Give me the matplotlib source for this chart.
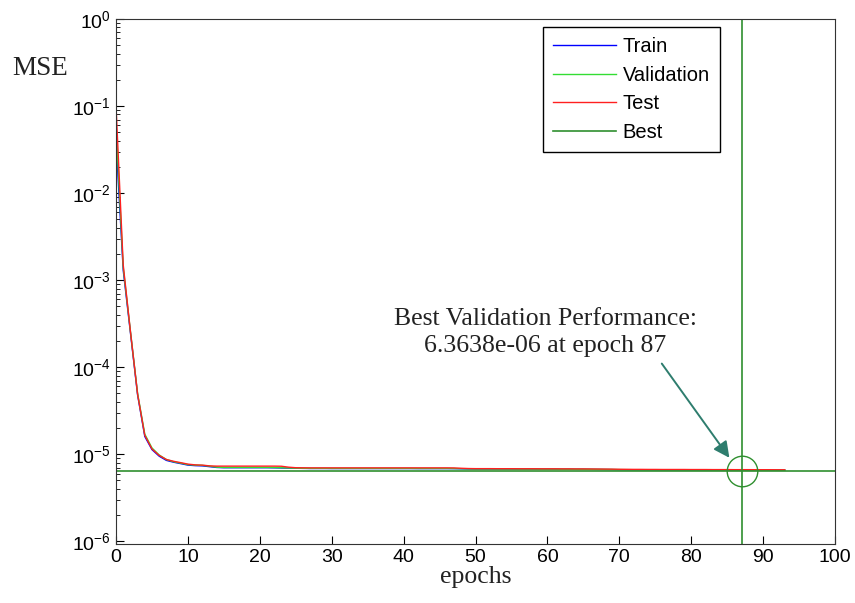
import numpy as np
import matplotlib
matplotlib.use("Agg")
import matplotlib.pyplot as plt
from matplotlib.ticker import NullFormatter

# performance values (MSE per epoch, 0..93)
train_mse = [
    4.0e-2, 1.3e-3, 2.5e-4, 4.8e-5, 1.6e-5, 1.13e-5, 9.5e-6, 8.5e-6, 8.1e-6, 7.8e-6,
    7.5e-6, 7.4e-6, 7.35e-6, 7.2e-6, 7.05e-6, 7.0e-6, 7.0e-6, 7.0e-6, 7.0e-6, 7.0e-6,
    7.0e-6, 7.0e-6, 6.98e-6, 6.95e-6, 6.92e-6, 6.9e-6, 6.88e-6, 6.86e-6, 6.86e-6, 6.86e-6,
    6.85e-6, 6.85e-6, 6.85e-6, 6.85e-6, 6.85e-6, 6.85e-6, 6.85e-6, 6.85e-6, 6.85e-6, 6.85e-6,
    6.85e-6, 6.85e-6, 6.84e-6, 6.84e-6, 6.84e-6, 6.84e-6, 6.84e-6, 6.83e-6, 6.8e-6, 6.77e-6,
    6.75e-6, 6.75e-6, 6.75e-6, 6.74e-6, 6.74e-6, 6.74e-6, 6.73e-6, 6.73e-6, 6.73e-6, 6.72e-6,
    6.72e-6, 6.72e-6, 6.71e-6, 6.71e-6, 6.7e-6, 6.7e-6, 6.69e-6, 6.68e-6, 6.67e-6, 6.66e-6,
    6.64e-6, 6.63e-6, 6.62e-6, 6.62e-6, 6.61e-6, 6.61e-6, 6.6e-6, 6.6e-6, 6.6e-6, 6.6e-6,
    6.59e-6, 6.59e-6, 6.59e-6, 6.58e-6, 6.58e-6, 6.58e-6, 6.57e-6, 6.57e-6, 6.57e-6, 6.56e-6,
    6.56e-6, 6.56e-6, 6.55e-6, 6.55e-6,
]
val_mse = [
    6.0e-2, 1.4e-3, 2.6e-4, 5.0e-5, 1.7e-5, 1.18e-5, 9.8e-6, 8.7e-6, 8.2e-6, 7.9e-6,
    7.6e-6, 7.5e-6, 7.45e-6, 7.3e-6, 7.1e-6, 7.05e-6, 7.05e-6, 7.05e-6, 7.05e-6, 7.05e-6,
    7.05e-6, 7.05e-6, 7.03e-6, 7.0e-6, 6.95e-6, 6.92e-6, 6.9e-6, 6.88e-6, 6.88e-6, 6.88e-6,
    6.87e-6, 6.87e-6, 6.87e-6, 6.87e-6, 6.87e-6, 6.87e-6, 6.87e-6, 6.87e-6, 6.87e-6, 6.87e-6,
    6.87e-6, 6.87e-6, 6.86e-6, 6.86e-6, 6.86e-6, 6.86e-6, 6.86e-6, 6.85e-6, 6.82e-6, 6.79e-6,
    6.77e-6, 6.77e-6, 6.77e-6, 6.76e-6, 6.76e-6, 6.76e-6, 6.75e-6, 6.75e-6, 6.75e-6, 6.74e-6,
    6.74e-6, 6.74e-6, 6.73e-6, 6.73e-6, 6.72e-6, 6.72e-6, 6.71e-6, 6.7e-6, 6.69e-6, 6.68e-6,
    6.66e-6, 6.65e-6, 6.64e-6, 6.64e-6, 6.63e-6, 6.63e-6, 6.62e-6, 6.62e-6, 6.62e-6, 6.62e-6,
    6.61e-6, 6.61e-6, 6.61e-6, 6.6e-6, 6.6e-6, 6.6e-6, 6.59e-6, 6.59e-6, 6.59e-6, 6.58e-6,
    6.58e-6, 6.58e-6, 6.57e-6, 6.57e-6,
]
test_mse = [
    1.0e-1, 1.5e-3, 2.6e-4, 4.9e-5, 1.65e-5, 1.15e-5, 9.7e-6, 8.7e-6, 8.3e-6, 8.0e-6,
    7.7e-6, 7.55e-6, 7.5e-6, 7.35e-6, 7.3e-6, 7.3e-6, 7.3e-6, 7.3e-6, 7.3e-6, 7.3e-6,
    7.3e-6, 7.3e-6, 7.3e-6, 7.28e-6, 7.1e-6, 7.0e-6, 6.98e-6, 6.97e-6, 6.97e-6, 6.97e-6,
    6.97e-6, 6.97e-6, 6.97e-6, 6.97e-6, 6.97e-6, 6.97e-6, 6.97e-6, 6.97e-6, 6.97e-6, 6.97e-6,
    6.97e-6, 6.97e-6, 6.97e-6, 6.97e-6, 6.97e-6, 6.97e-6, 6.97e-6, 6.96e-6, 6.9e-6, 6.85e-6,
    6.83e-6, 6.83e-6, 6.83e-6, 6.82e-6, 6.82e-6, 6.82e-6, 6.81e-6, 6.81e-6, 6.81e-6, 6.8e-6,
    6.8e-6, 6.8e-6, 6.79e-6, 6.79e-6, 6.78e-6, 6.78e-6, 6.77e-6, 6.76e-6, 6.75e-6, 6.74e-6,
    6.72e-6, 6.71e-6, 6.7e-6, 6.7e-6, 6.69e-6, 6.69e-6, 6.68e-6, 6.68e-6, 6.68e-6, 6.68e-6,
    6.67e-6, 6.67e-6, 6.67e-6, 6.66e-6, 6.66e-6, 6.66e-6, 6.65e-6, 6.65e-6, 6.65e-6, 6.64e-6,
    6.64e-6, 6.64e-6, 6.63e-6, 6.63e-6,
]
best_epoch = 87
best_perf = 6.3638e-06

epochs = np.arange(len(train_mse))

fig = plt.figure(figsize=(8.55, 6.03), dpi=100)
ax = fig.add_axes([0.1357, 0.0978, 0.841, 0.8707])

best_col = "#2f8f2f"
ax.semilogy(epochs, train_mse, color="#0000ff", lw=1.0, label="Train")
ax.semilogy(epochs, val_mse, color="#33dd33", lw=1.0, label="Validation")
ax.semilogy(epochs, test_mse, color="#ff2020", lw=1.0, label="Test")
ax.axhline(best_perf, color=best_col, lw=1.2, label="Best")
ax.axvline(best_epoch, color=best_col, lw=1.2)

ax.set_xlim(0, 100)
ax.set_ylim(0.93e-6, 1)

# circle round the best point
ax.plot([best_epoch], [best_perf], marker="o", markersize=22, markerfacecolor="none",
        markeredgecolor=best_col, markeredgewidth=1.0)

ax.text(59.7, 2.5e-4, "Best Validation Performance:\n6.3638e-06 at epoch 87",
        ha="center", va="center", fontsize=18.5, family="Liberation Serif",
        linespacing=1.3, color="#222222")
ax.annotate("", xy=(85.3, 9.1e-6), xytext=(75.9, 1.1e-4),
            arrowprops=dict(arrowstyle="-|>", color="#2e7d6e", lw=1.4,
                            mutation_scale=24, shrinkA=0, shrinkB=0))

ax.set_xticks(range(0, 101, 10))
ax.set_yticks([1e-6, 1e-5, 1e-4, 1e-3, 1e-2, 1e-1, 1e0])
ax.yaxis.set_minor_formatter(NullFormatter())
ax.tick_params(axis="both", which="both", direction="in", top=False, right=False)
ax.tick_params(axis="both", which="major", length=6, labelsize=14)
ax.tick_params(axis="y", which="minor", length=3)
for lbl in ax.get_xticklabels() + ax.get_yticklabels():
    lbl.set_family("Liberation Sans")

ax.set_xlabel("epochs", family="Liberation Serif", fontsize=18.5, labelpad=0,
              color="#222222")
ax.text(-0.105, 0.906, "MSE", transform=ax.transAxes, family="Liberation Serif",
        fontsize=19.5, ha="center", va="center", color="#222222")

leg = ax.legend(loc="upper right", bbox_to_anchor=(0.840, 0.985), borderaxespad=0,
                prop={"family": "Liberation Sans", "size": 14.5}, fancybox=False,
                edgecolor="black", framealpha=1, handlelength=3.1,
                handletextpad=0.35, labelspacing=0.48, borderpad=0.5)
leg.get_frame().set_linewidth(1.0)

for sp in ax.spines.values():
    sp.set_color("#333333")

fig.savefig("out.png", dpi=100)
